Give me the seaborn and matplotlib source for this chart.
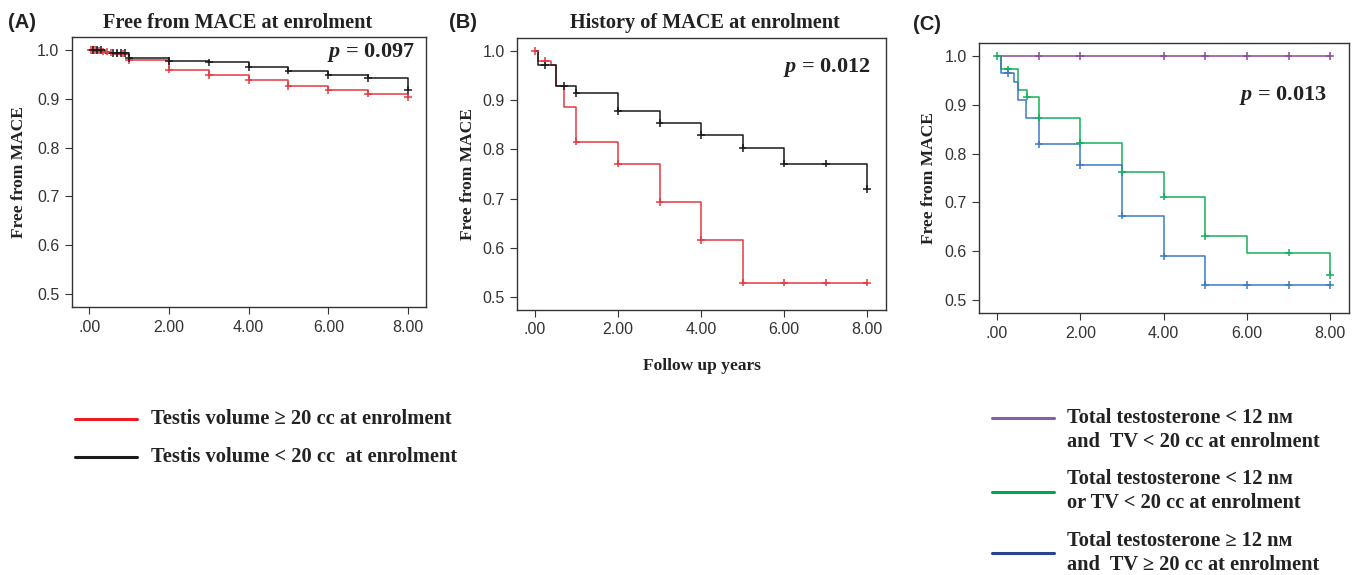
import numpy as np
import pandas as pd
import matplotlib
matplotlib.use("Agg")
import matplotlib.pyplot as plt
from matplotlib.lines import Line2D
import seaborn as sns

# ---- data (Kaplan-Meier steps + censor times) ----
# (A) free from MACE at enrolment
a_red_t = [0, 0.2, 0.35, 0.5, 0.65, 1, 2, 3, 4, 5, 6, 7, 8]
a_red_s = [1.0, 0.999, 0.997, 0.995, 0.993, 0.980, 0.960, 0.949, 0.939, 0.927, 0.918, 0.911, 0.903]
a_red_cens = [0.05, 0.1, 0.15, 0.2, 0.25, 0.35, 0.45, 0.55, 0.7, 0.85, 1, 2, 3, 4, 5, 6, 7, 8]
a_blk_t = [0, 0.4, 1, 2, 3, 4, 5, 6, 7, 8]
a_blk_s = [1.0, 0.994, 0.984, 0.978, 0.975, 0.965, 0.958, 0.949, 0.943, 0.918]
a_blk_cens = [0.1, 0.2, 0.3, 0.6, 0.7, 0.8, 0.9, 1, 2, 3, 4, 5, 6, 7, 8]

# (B) history of MACE at enrolment
b_red_t = [0, 0.08, 0.4, 0.5, 0.7, 1, 2, 3, 4, 5, 8]
b_red_s = [1.0, 0.980, 0.971, 0.929, 0.887, 0.816, 0.771, 0.693, 0.616, 0.529, 0.529]
b_red_cens = [0, 0.25, 1, 2, 3, 4, 5, 6, 7, 8]
b_blk_t = [0, 0.08, 0.5, 1, 2, 3, 4, 5, 6, 8]
b_blk_s = [1.0, 0.971, 0.929, 0.915, 0.878, 0.854, 0.830, 0.803, 0.771, 0.719]
b_blk_cens = [0.25, 0.7, 1, 2, 3, 4, 5, 6, 7, 8]

# (C) testosterone / testis volume groups
c_pur_t = [0, 8]
c_pur_s = [1.0, 1.0]
c_pur_cens = [1, 2, 4, 5, 6, 7, 8]
c_grn_t = [0, 0.1, 0.5, 0.72, 1, 2, 3, 4, 5, 6, 8]
c_grn_s = [1.0, 0.973, 0.931, 0.917, 0.874, 0.822, 0.762, 0.712, 0.630, 0.597, 0.551]
c_grn_cens = [0, 0.27, 0.72, 1, 2, 3, 4, 5, 7, 8]
c_blu_t = [0, 0.1, 0.4, 0.5, 0.7, 1, 2, 3, 4, 5, 8]
c_blu_s = [1.0, 0.965, 0.947, 0.910, 0.874, 0.819, 0.777, 0.673, 0.589, 0.531, 0.531]
c_blu_cens = [0.27, 1, 2, 3, 4, 5, 6, 7, 8]

x_ticks = [0, 2, 4, 6, 8]
x_labels = [".00", "2.00", "4.00", "6.00", "8.00"]
y_ticks = [0.5, 0.6, 0.7, 0.8, 0.9, 1.0]
y_labels = ["0.5", "0.6", "0.7", "0.8", "0.9", "1.0"]

a_legend = ["Testis volume \u2265 20 cc at enrolment",
            "Testis volume < 20 cc  at enrolment"]
c_legend = ["Total testosterone < 12 n\u1d0d\nand  TV < 20 cc at enrolment",
            "Total testosterone < 12 n\u1d0d\nor TV < 20 cc at enrolment",
            "Total testosterone \u2265 12 n\u1d0d\nand  TV \u2265 20 cc at enrolment"]

# ---- style ----
sns.set_theme(style="ticks")
plt.rcParams["font.family"] = ["Liberation Sans", "DejaVu Sans"]
plt.rcParams["mathtext.fontset"] = "custom"
plt.rcParams["mathtext.it"] = "Liberation Serif:italic:bold"
plt.rcParams["mathtext.rm"] = "Liberation Serif:bold"
SERIF = ["Liberation Serif", "DejaVu Serif"]

W, H = 1355, 575
fig = plt.figure(figsize=(W / 100, H / 100), dpi=100)


def fx(px):
    return px / W


def fy(py):
    return 1 - py / H


def km_frames(curves):
    lines, marks = [], []
    for name, t, s, cens in curves:
        t = np.asarray(t, float)
        s = np.asarray(s, float)
        lines.append(pd.DataFrame({"time": t, "surv": s, "group": name}))
        c = np.asarray(cens, float)
        idx = np.searchsorted(t, c, side="right") - 1
        marks.append(pd.DataFrame({"time": c, "surv": s[idx], "group": name}))
    return pd.concat(lines), pd.concat(marks)


def panel(rect, curves, palette, ptext, ppos, ylab_x):
    ax = fig.add_axes(rect)
    lines, marks = km_frames(curves)
    sns.lineplot(data=lines, x="time", y="surv", hue="group", palette=palette,
                 drawstyle="steps-post", estimator=None, sort=True,
                 linewidth=1.1, legend=False, ax=ax)
    sns.scatterplot(data=marks, x="time", y="surv", hue="group", palette=palette,
                    marker="+", s=30, linewidth=1.1, legend=False, ax=ax, zorder=3)
    ax.set_xlim(-0.43, 8.45)
    ax.set_ylim(0.473, 1.027)
    ax.set_xticks(x_ticks)
    ax.set_xticklabels(x_labels)
    ax.set_yticks(y_ticks)
    ax.set_yticklabels(y_labels)
    ax.tick_params(direction="out", length=5, width=0.8, pad=4,
                   labelsize=11.5, colors="#333333")
    for sp in ax.spines.values():
        sp.set_visible(True)
        sp.set_color("#333333")
        sp.set_linewidth(1.0)
    ax.set_xlabel("")
    ax.set_ylabel("Free from MACE", family=SERIF, fontweight="bold",
                  fontsize=12.5, color="#222222")
    ax.yaxis.set_label_coords(ylab_x, 0.5)
    ax.text(ppos[0], ppos[1], ptext, transform=ax.transAxes, ha="right",
            va="center", fontsize=16, family=SERIF, fontweight="bold",
            color="#222222")
    return ax


ax_a = panel([fx(72), fy(307), fx(426 - 72), (307 - 37) / H],
             [("hi", a_red_t, a_red_s, a_red_cens), ("lo", a_blk_t, a_blk_s, a_blk_cens)],
             {"hi": "#e6393f", "lo": "#1a1a1a"}, r"$p$ = 0.097", (0.969, 0.941), -0.127)

ax_b = panel([fx(517), fy(310), fx(886 - 517), (310 - 38) / H],
             [("hi", b_red_t, b_red_s, b_red_cens), ("lo", b_blk_t, b_blk_s, b_blk_cens)],
             {"hi": "#e6393f", "lo": "#1a1a1a"}, r"$p$ = 0.012", (0.959, 0.893), -0.111)
ax_b.set_xlabel("Follow up years", family=SERIF, fontweight="bold",
                fontsize=12.5, color="#222222", labelpad=15)

ax_c = panel([fx(979), fy(313), fx(1349 - 979), (313 - 43) / H],
             [("pur", c_pur_t, c_pur_s, c_pur_cens), ("grn", c_grn_t, c_grn_s, c_grn_cens),
              ("blu", c_blu_t, c_blu_s, c_blu_cens)],
             {"pur": "#8b4c9a", "grn": "#14b05a", "blu": "#3a7bc4"},
             r"$p$ = 0.013", (0.941, 0.807), -0.114)

# titles and panel letters
fig.text(fx(238), fy(23), "Free from MACE at enrolment", ha="center", va="center",
         family=SERIF, fontweight="bold", fontsize=14.6, color="#222222")
fig.text(fx(705), fy(23), "History of MACE at enrolment", ha="center", va="center",
         family=SERIF, fontweight="bold", fontsize=14.6, color="#222222")
for lab, x, y in [("(A)", 8, 23), ("(B)", 449, 23), ("(C)", 913, 25)]:
    fig.text(fx(x), fy(y), lab, ha="left", va="center", fontsize=14.5,
             fontweight="bold", color="#222222")

# legend keys
for txt, col, y in zip(a_legend, ["#ed1c24", "#1a1a1a"], [419, 457]):
    fig.add_artist(Line2D([fx(75), fx(137)], [fy(y), fy(y)], color=col, lw=2.2))
    fig.text(fx(151), fy(y), txt, ha="left", va="center", family=SERIF,
             fontweight="bold", fontsize=14.8, color="#222222")

for txt, col, yl, yt in zip(c_legend, ["#8a5caa", "#00a650", "#2b3f96"],
                            [418, 492, 553], [430, 491, 553]):
    fig.add_artist(Line2D([fx(992), fx(1054)], [fy(yl), fy(yl)], color=col, lw=2.2))
    fig.text(fx(1067), fy(yt), txt, ha="left", va="center", family=SERIF,
             fontweight="bold", fontsize=14.7, color="#222222", linespacing=1.25)

fig.savefig("out.png", dpi=100)
